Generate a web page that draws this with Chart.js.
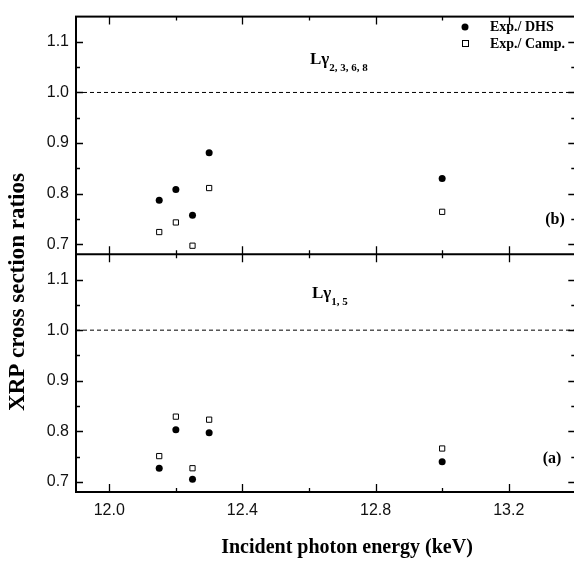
<!DOCTYPE html>
<html>
<head>
<meta charset="utf-8">
<script src="https://cdn.jsdelivr.net/npm/chart.js@4.4.1/dist/chart.umd.min.js"></script>
<style>
  html, body { margin: 0; padding: 0; background: #fff; overflow: hidden; }
  #contenedor { position: relative; width: 580px; height: 565px; }
</style>
</head>
<body>
<div id="contenedor"><canvas id="grafico" width="580" height="565"></canvas></div>
<script>
// energias de los fotones incidentes (keV)
const energias = [12.15, 12.2, 12.25, 12.3, 13.0];

// panel (b): L gamma 2,3,6,8
const lg2368DHS = [0.787, 0.808, 0.757, 0.881, 0.830];
const lg2368Camp = [0.724, 0.743, 0.697, 0.811, 0.764];

// panel (a): L gamma 1,5
const lg15DHS = [0.727, 0.803, 0.705, 0.797, 0.740];
const lg15Camp = [0.751, 0.829, 0.727, 0.823, 0.766];

const xMayores = [12.0, 12.4, 12.8, 13.2];
const xMenores = [12.2, 12.6, 13.0];
const yMayores = [0.7, 0.8, 0.9, 1.0, 1.1];
const yMenores = [0.75, 0.85, 0.95, 1.05];
const xLimites = [11.9, 13.4];
const yLimites = [0.68, 1.15];
const lineaRef = 1.0;

const serif = "'Liberation Serif', 'Times New Roman', serif";
const sans = "'Liberation Sans', Arial, sans-serif";

function puntos(ys) {
    return energias.map((x, i) => ({ x, y: ys[i] }));
}

const circulo = { pointStyle: 'circle', pointRadius: 3.5, pointHoverRadius: 3.5, backgroundColor: '#000', borderColor: '#000', borderWidth: 0 };
const cuadro = { pointStyle: 'rect', pointRadius: 3.7, pointHoverRadius: 3.7, backgroundColor: '#fff', borderColor: '#000', borderWidth: 1 };

function referencia(eje) {
    return {
        label: 'ref',
        yAxisID: eje,
        data: xLimites.map(x => ({ x, y: lineaRef })),
        showLine: true,
        borderColor: '#000',
        borderWidth: 1,
        borderDash: [4, 3],
        pointRadius: 0
    };
}

function ejeY(peso) {
    return {
        type: 'linear',
        position: 'left',
        stack: 'paneles',
        stackWeight: 1,
        weight: peso,
        min: yLimites[0],
        max: yLimites[1],
        afterBuildTicks: s => { s.ticks = yMayores.map(v => ({ value: v })); },
        afterFit: s => { s.width = 76; },
        grid: { display: false, drawTicks: false },
        border: { display: false },
        ticks: {
            padding: 7,
            color: '#111',
            font: { family: sans, size: 16 },
            callback: v => v.toFixed(1)
        }
    };
}

function ticksPanel(ctx, chart, s) {
    const a = chart.chartArea;
    const sx = chart.scales.x;
    ctx.lineWidth = 1.3;
    ctx.beginPath();
    xMayores.forEach(v => {
        const px = Math.round(sx.getPixelForValue(v)) + 0.5;
        ctx.moveTo(px, s.top); ctx.lineTo(px, s.top + 8);
        ctx.moveTo(px, s.bottom); ctx.lineTo(px, s.bottom - 8);
    });
    xMenores.forEach(v => {
        const px = Math.round(sx.getPixelForValue(v)) + 0.5;
        ctx.moveTo(px, s.top); ctx.lineTo(px, s.top + 4);
        ctx.moveTo(px, s.bottom); ctx.lineTo(px, s.bottom - 4);
    });
    yMayores.forEach(v => {
        const py = Math.round(s.getPixelForValue(v)) + 0.5;
        ctx.moveTo(a.left, py); ctx.lineTo(a.left + 7, py);
        ctx.moveTo(a.right, py); ctx.lineTo(a.right - 7, py);
    });
    yMenores.forEach(v => {
        const py = Math.round(s.getPixelForValue(v)) + 0.5;
        ctx.moveTo(a.left, py); ctx.lineTo(a.left + 4, py);
        ctx.moveTo(a.right, py); ctx.lineTo(a.right - 4, py);
    });
    ctx.stroke();
}

function etiquetaL(ctx, x, y, sub) {
    ctx.textAlign = 'left';
    ctx.textBaseline = 'alphabetic';
    ctx.font = 'bold 17px ' + serif;
    ctx.fillText('Lγ', x, y);
    const w = ctx.measureText('Lγ').width;
    ctx.font = 'bold 11px ' + serif;
    ctx.fillText(sub, x + w, y + 7);
}

const marco = {
    id: 'marco',
    afterDraw(chart) {
        const ctx = chart.ctx;
        const a = chart.chartArea;
        const sup = chart.scales.yTop;
        const inf = chart.scales.yBot;
        ctx.save();
        ctx.strokeStyle = '#000';
        ctx.fillStyle = '#000';
        ctx.lineWidth = 2;
        ctx.strokeRect(a.left, a.top, a.right - a.left, a.bottom - a.top);
        ctx.beginPath();
        ctx.moveTo(a.left, sup.bottom);
        ctx.lineTo(a.right, sup.bottom);
        ctx.stroke();
        ticksPanel(ctx, chart, sup);
        ticksPanel(ctx, chart, inf);

        // leyenda
        ctx.beginPath();
        ctx.arc(465, 27, 3.5, 0, Math.PI * 2);
        ctx.fill();
        ctx.lineWidth = 1;
        ctx.fillStyle = '#fff';
        ctx.fillRect(462.5, 40.5, 6, 6);
        ctx.strokeRect(462.5, 40.5, 6, 6);
        ctx.fillStyle = '#000';
        ctx.font = 'bold 14px ' + serif;
        ctx.textAlign = 'left';
        ctx.textBaseline = 'middle';
        ctx.fillText('Exp./ DHS', 490, 27);
        ctx.fillText('Exp./ Camp.', 490, 44);

        etiquetaL(ctx, 310, 64, '2, 3, 6, 8');
        etiquetaL(ctx, 312, 298, '1, 5');

        ctx.font = 'bold 16px ' + serif;
        ctx.textAlign = 'center';
        ctx.textBaseline = 'middle';
        ctx.fillText('(b)', 555, 220);
        ctx.fillText('(a)', 552, 459);

        // titulos de los ejes
        ctx.font = 'bold 20px ' + serif;
        ctx.fillText('Incident photon energy (keV)', 347, 548);
        ctx.save();
        ctx.translate(18, 292);
        ctx.rotate(-Math.PI / 2);
        ctx.font = 'bold 23px ' + serif;
        ctx.fillText('XRP cross section ratios', 0, 0);
        ctx.restore();
        ctx.restore();
    }
};

const ctx = document.getElementById('grafico').getContext('2d');
new Chart(ctx, {
    type: 'scatter',
    data: {
        datasets: [
            referencia('yTop'),
            referencia('yBot'),
            { label: 'Exp./ DHS', yAxisID: 'yTop', data: puntos(lg2368DHS), ...circulo },
            { label: 'Exp./ Camp.', yAxisID: 'yTop', data: puntos(lg2368Camp), ...cuadro },
            { label: 'Exp./ DHS', yAxisID: 'yBot', data: puntos(lg15DHS), ...circulo },
            { label: 'Exp./ Camp.', yAxisID: 'yBot', data: puntos(lg15Camp), ...cuadro }
        ]
    },
    options: {
        responsive: false,
        animation: false,
        layout: { padding: { top: 10, right: 3, left: 0, bottom: 0 } },
        plugins: {
            legend: { display: false },
            tooltip: { enabled: false }
        },
        scales: {
            x: {
                type: 'linear',
                position: 'bottom',
                min: xLimites[0],
                max: xLimites[1],
                afterBuildTicks: s => { s.ticks = xMayores.map(v => ({ value: v })); },
                afterFit: s => { s.height = 73; },
                grid: { display: false, drawTicks: false },
                border: { display: false },
                ticks: {
                    padding: 9,
                    maxRotation: 0,
                    color: '#111',
                    font: { family: sans, size: 16 },
                    callback: v => v.toFixed(1)
                }
            },
            yTop: ejeY(1),
            yBot: ejeY(0)
        }
    },
    plugins: [marco]
});
</script>
</body>
</html>
